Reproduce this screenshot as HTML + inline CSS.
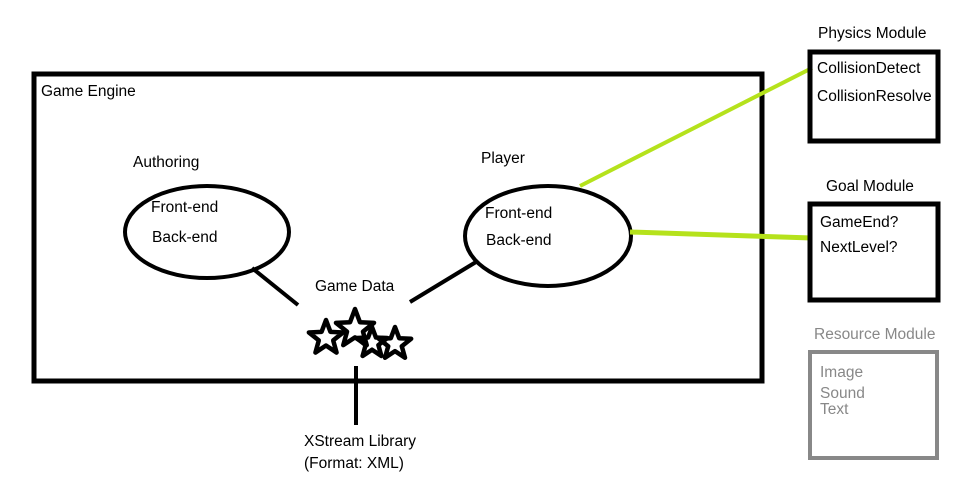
<!DOCTYPE html>
<html><head><meta charset="utf-8"><style>
body{margin:0;background:#fff;}
svg{display:block}
text{font-family:"Liberation Sans",sans-serif;font-size:15.5px;fill:#000;}
</style></head><body>
<svg width="955" height="492" viewBox="0 0 955 492">
<defs>
<polygon id="st" points="0,-1 0.247,-0.34 0.951,-0.309 0.399,0.13 0.588,0.809 0,0.42 -0.588,0.809 -0.399,0.13 -0.951,-0.309 -0.247,-0.34" fill="none" stroke="#000" stroke-width="4.5" vector-effect="non-scaling-stroke" stroke-linejoin="round"/>
</defs>
<rect x="34" y="74" width="728" height="307" fill="none" stroke="#000" stroke-width="5"/>
<text x="41" y="96">Game Engine</text>
<text x="133" y="167">Authoring</text>
<text x="481" y="163">Player</text>
<ellipse cx="207" cy="232" rx="82" ry="46" fill="none" stroke="#000" stroke-width="4"/>
<text x="151" y="212">Front-end</text>
<text x="152" y="242">Back-end</text>
<ellipse cx="548" cy="236" rx="83" ry="50" fill="none" stroke="#000" stroke-width="4"/>
<text x="485" y="218">Front-end</text>
<text x="486" y="245">Back-end</text>
<line x1="252" y1="268" x2="298" y2="305" stroke="#000" stroke-width="4"/>
<line x1="410" y1="302" x2="476" y2="262" stroke="#000" stroke-width="4"/>
<text x="315" y="291">Game Data</text>
<use href="#st" transform="translate(326,338) scale(18)"/>
<use href="#st" transform="translate(355,329) scale(20)"/>
<use href="#st" transform="translate(372,343) scale(16)"/>
<use href="#st" transform="translate(395,344) scale(17)"/>
<line x1="356" y1="366" x2="356" y2="425" stroke="#000" stroke-width="4"/>
<text x="304" y="446">XStream Library</text>
<text x="304" y="468">(Format: XML)</text>
<line x1="580" y1="186" x2="812" y2="68" stroke="#b5e21c" stroke-width="4"/>
<line x1="630" y1="232" x2="812" y2="238" stroke="#b5e21c" stroke-width="5"/>
<text x="818" y="38">Physics Module</text>
<rect x="810" y="52" width="128" height="89" fill="none" stroke="#000" stroke-width="5"/>
<text x="817" y="73">CollisionDetect</text>
<text x="817" y="101">CollisionResolve</text>
<text x="826" y="191">Goal Module</text>
<rect x="810" y="204" width="128" height="96" fill="none" stroke="#000" stroke-width="5"/>
<text x="820" y="227">GameEnd?</text>
<text x="820" y="252">NextLevel?</text>
<text x="814" y="339" style="fill:#888">Resource Module</text>
<rect x="810" y="352" width="127" height="106" fill="none" stroke="#888" stroke-width="4"/>
<text x="820" y="377" style="fill:#888">Image</text>
<text x="820" y="398" style="fill:#888">Sound</text>
<text x="820" y="414" style="fill:#888">Text</text>
</svg>
</body></html>
